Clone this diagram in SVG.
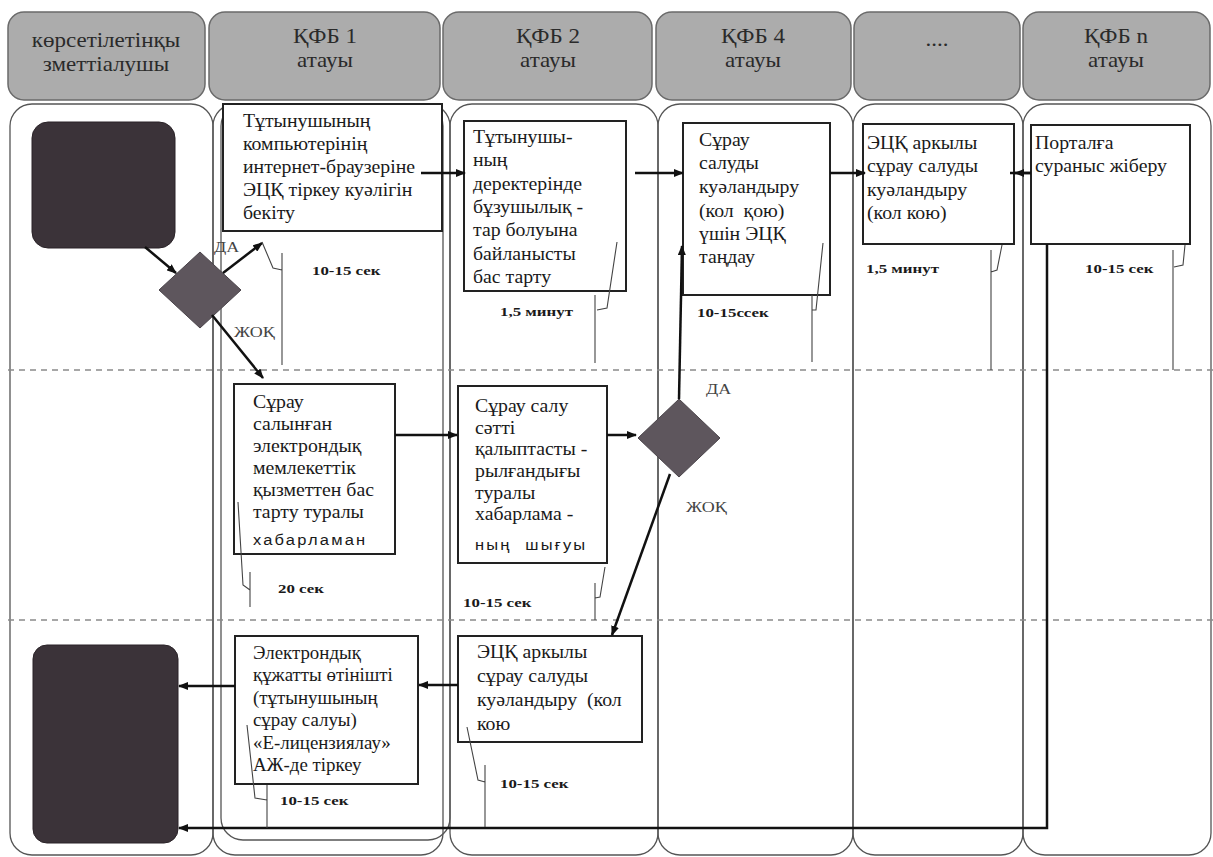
<svg xmlns="http://www.w3.org/2000/svg" width="1213" height="857" viewBox="0 0 1213 857">
<defs>
<marker id="ah" viewBox="0 0 10 8" refX="9" refY="4" markerWidth="4" markerHeight="3.2" orient="auto" markerUnits="strokeWidth">
<path d="M0,0 L10,4 L0,8 Z" fill="#111"/>
</marker>
</defs>
<style>
.hdr{fill:#acacac;stroke:#6a6a6a;stroke-width:1.5}
.ht{font-size:20px;fill:#2a2a2a;text-anchor:middle}
.lane{fill:none;stroke:#555;stroke-width:1.3}
.dash{stroke:#8a8a8a;stroke-width:1.6;stroke-dasharray:6 5;fill:none}
.box{fill:#fff;stroke:#222;stroke-width:2}
.bt{font-size:18px;fill:#1a1a1a}
.bs{font-size:15px;fill:#1a1a1a;letter-spacing:2px}
.term{fill:#3b3339;stroke:#2a2328;stroke-width:1}
.dia{fill:#5e565d;stroke:#4a444a;stroke-width:1}
.con{fill:none;stroke:#111;stroke-width:2.5;marker-end:url(#ah)}
.line{fill:none;stroke:#111;stroke-width:2.5}
.co{fill:none;stroke:#444;stroke-width:1.1}
.tm{font-size:13px;font-weight:bold;fill:#1a1a1a}
.lb{font-size:15px;fill:#444}
</style>
<rect width="1213" height="857" fill="#fff"/>

<g id="headers" font-family="Liberation Serif, Times New Roman, serif">
<rect class="hdr" x="8" y="12" width="197" height="88" rx="16"/>
<rect class="hdr" x="209" y="12" width="231" height="88" rx="16"/>
<rect class="hdr" x="443" y="12" width="209" height="88" rx="16"/>
<rect class="hdr" x="656" y="12" width="195" height="88" rx="16"/>
<rect class="hdr" x="854" y="12" width="166" height="88" rx="16"/>
<rect class="hdr" x="1023" y="12" width="187" height="88" rx="16"/>
<g transform="matrix(1.15,0,0,1,-15.9,0)">
<text class="ht" x="106" y="47">көрсетілетінқы</text>
<text class="ht" x="106" y="71">зметтіалушы</text>
</g>
<g transform="matrix(1.15,0,0,1,-48.75,0)">
<text class="ht" x="325" y="43">ҚФБ 1</text>
<text class="ht" x="325" y="67">атауы</text>
</g>
<g transform="matrix(1.15,0,0,1,-82.2,0)">
<text class="ht" x="548" y="43">ҚФБ 2</text>
<text class="ht" x="548" y="67">атауы</text>
</g>
<g transform="matrix(1.15,0,0,1,-112.95,0)">
<text class="ht" x="753" y="43">ҚФБ 4</text>
<text class="ht" x="753" y="67">атауы</text>
</g>
<g transform="matrix(1.15,0,0,1,-140.55,0)">
<text class="ht" x="937" y="46">....</text>
</g>
<g transform="matrix(1.15,0,0,1,-167.4,0)">
<text class="ht" x="1116" y="43">ҚФБ n</text>
<text class="ht" x="1116" y="67">атауы</text>
</g>
</g>

<g id="lanes">
<rect class="lane" x="10" y="104" width="203" height="751" rx="22"/>
<rect class="lane" x="213" y="104" width="230" height="751" rx="22"/>
<rect class="lane" x="221" y="104" width="229" height="736" rx="22"/>
<rect class="lane" x="450" y="104" width="208" height="751" rx="22"/>
<rect class="lane" x="658" y="104" width="195" height="751" rx="22"/>
<rect class="lane" x="853" y="104" width="170" height="751" rx="22"/>
<rect class="lane" x="1023" y="104" width="188" height="751" rx="22"/>
<line class="dash" x1="8" y1="370" x2="1213" y2="370"/>
<line class="dash" x1="8" y1="620" x2="1213" y2="620"/>
</g>

<g id="start"><rect class="term" x="32" y="122" width="143" height="126" rx="16"/></g>
<g id="end"><rect class="term" x="33" y="645" width="145" height="198" rx="14"/></g>

<g id="decision1"><polygon class="dia" points="200,252 241,290 200,328 159,290"/></g>
<g id="decision2"><polygon class="dia" points="679,399 720,438 679,477 638,438"/></g>

<g id="nodeA" font-family="Liberation Serif, Times New Roman, serif">
<rect class="box" x="223" y="104" width="219" height="127"/>
<g transform="matrix(1.1,0,0,1,-24.3,0)">
<text class="bt" x="243" y="127">Тұтынушының</text>
<text class="bt" x="243" y="150">компьютерінің</text>
<text class="bt" x="243" y="173">интернет-браузеріне</text>
<text class="bt" x="243" y="196">ЭЦҚ тіркеу куәлігін</text>
<text class="bt" x="243" y="219">бекіту</text>
</g>
</g>

<g id="nodeB" font-family="Liberation Serif, Times New Roman, serif">
<rect class="box" x="464" y="121" width="162" height="170"/>
<g transform="matrix(1.1,0,0,1,-47.3,0)">
<text class="bt" x="473" y="143">Тұтынушы-</text>
<text class="bt" x="473" y="166">ның</text>
<text class="bt" x="473" y="190">деректерінде</text>
<text class="bt" x="473" y="213">бұзушылық -</text>
<text class="bt" x="473" y="236">тар болуына</text>
<text class="bt" x="473" y="260">байланысты</text>
<text class="bt" x="473" y="283">бас тарту</text>
</g>
</g>

<g id="nodeC" font-family="Liberation Serif, Times New Roman, serif">
<rect class="box" x="683" y="123" width="147" height="172"/>
<g transform="matrix(1.1,0,0,1,-69.9,0)">
<text class="bt" x="699" y="146">Сұрау</text>
<text class="bt" x="699" y="169">салуды</text>
<text class="bt" x="699" y="193">куәландыру</text>
<text class="bt" x="699" y="217" xml:space="preserve">(кол  қою)</text>
<text class="bt" x="699" y="240">үшін ЭЦҚ</text>
<text class="bt" x="699" y="263">таңдау</text>
</g>
</g>

<g id="nodeD" font-family="Liberation Serif, Times New Roman, serif">
<rect class="box" x="863" y="124" width="151" height="120"/>
<g transform="matrix(1.1,0,0,1,-86.7,0)">
<text class="bt" x="867" y="149">ЭЦҚ аркылы</text>
<text class="bt" x="867" y="172">сұрау салуды</text>
<text class="bt" x="867" y="196">куәландыру</text>
<text class="bt" x="867" y="219">(кол кою)</text>
</g>
</g>

<g id="nodeE" font-family="Liberation Serif, Times New Roman, serif">
<rect class="box" x="1031" y="125" width="159" height="119"/>
<g transform="matrix(1.1,0,0,1,-103.5,0)">
<text class="bt" x="1035" y="149">Порталға</text>
<text class="bt" x="1035" y="172">сураныс жіберу</text>
</g>
</g>

<g id="nodeF" font-family="Liberation Serif, Times New Roman, serif">
<rect class="box" x="234" y="384" width="161" height="170"/>
<g transform="matrix(1.1,0,0,1,-25.3,0)">
<text class="bt" x="253" y="408">Сұрау</text>
<text class="bt" x="253" y="430">салынған</text>
<text class="bt" x="253" y="452">электрондық</text>
<text class="bt" x="253" y="474">мемлекеттік</text>
<text class="bt" x="253" y="496">қызметтен бас</text>
<text class="bt" x="253" y="518">тарту туралы</text>
<text class="bs" x="253" y="545" font-family="Liberation Sans, Arial, sans-serif">хабарламан</text>
</g>
</g>

<g id="nodeG" font-family="Liberation Serif, Times New Roman, serif">
<rect class="box" x="458" y="386" width="149" height="177"/>
<g transform="matrix(1.1,0,0,1,-47.5,0)">
<text class="bt" x="475" y="412">Сұрау салу</text>
<text class="bt" x="475" y="434">сәтті</text>
<text class="bt" x="475" y="455">қалыптасты -</text>
<text class="bt" x="475" y="477">рылғандығы</text>
<text class="bt" x="475" y="499">туралы</text>
<text class="bt" x="475" y="520">хабарлама -</text>
<text class="bs" x="475" y="550" font-size="13" letter-spacing="1" font-family="Liberation Sans, Arial, sans-serif" xml:space="preserve">ның  шығуы</text>
</g>
</g>

<g id="nodeH" font-family="Liberation Serif, Times New Roman, serif">
<rect class="box" x="458" y="636" width="184" height="106"/>
<g transform="matrix(1.1,0,0,1,-47.7,0)">
<text class="bt" x="477" y="658">ЭЦҚ аркылы</text>
<text class="bt" x="477" y="682">сұрау салуды</text>
<text class="bt" x="477" y="706" xml:space="preserve">куәландыру  (кол</text>
<text class="bt" x="477" y="730">кою</text>
</g>
</g>

<g id="nodeI" font-family="Liberation Serif, Times New Roman, serif">
<rect class="box" x="235" y="636" width="183" height="148"/>
<g transform="matrix(1.05,0,0,1,-12.65,0)">
<text class="bt" x="253" y="659">Электрондық</text>
<text class="bt" x="253" y="681">құжатты өтінішті</text>
<text class="bt" x="253" y="704">(тұтынушының</text>
<text class="bt" x="253" y="726">сұрау салуы)</text>
<text class="bt" x="253" y="749">«Е-лицензиялау»</text>
<text class="bt" x="253" y="771">АЖ-де тіркеу</text>
</g>
</g>

<g id="connectors">
<line class="con" x1="145" y1="247" x2="176" y2="273"/>
<line class="con" x1="223" y1="273" x2="262" y2="243"/>
<line class="con" x1="212" y1="315" x2="263" y2="378"/>
<line class="con" x1="421" y1="173" x2="465" y2="173"/>
<line class="con" x1="635" y1="173" x2="683" y2="173"/>
<line class="con" x1="830" y1="173" x2="865" y2="173"/>
<line class="line" x1="1031" y1="173" x2="1010" y2="173"/>
<line class="con" x1="1031" y1="173" x2="1015" y2="173"/>
<line class="con" x1="395" y1="435" x2="457" y2="435"/>
<line class="con" x1="607" y1="435" x2="636" y2="435"/>
<line class="con" x1="679" y1="399" x2="682" y2="246"/>
<line class="con" x1="670" y1="474" x2="612" y2="635"/>
<line class="con" x1="458" y1="685" x2="419" y2="685"/>
<line class="con" x1="235" y1="686" x2="179" y2="686"/>
<polyline class="con" points="1047,244 1047,828 179,828"/>
</g>

<g id="labels" font-family="Liberation Serif, Times New Roman, serif">
<text class="lb" x="214" y="252" transform="matrix(1.2,0,0,1,-42.8,0)">ДА</text>
<text class="lb" x="234" y="337" transform="matrix(1.2,0,0,1,-46.8,0)">ЖОҚ</text>
<text class="lb" x="706" y="394" transform="matrix(1.2,0,0,1,-141.2,0)">ДА</text>
<text class="lb" x="686" y="512" transform="matrix(1.2,0,0,1,-137.2,0)">ЖОҚ</text>
</g>

<g id="callouts" font-family="Liberation Serif, Times New Roman, serif">
<path class="co" d="M262,242 L273,268 L282,270 M282,253 V365"/>
<path class="co" d="M617,242 L607,308 L597,310 M595,295 V363"/>
<path class="co" d="M823,243 L816,310 L812,310 M812,295 V362"/>
<path class="co" d="M1002,245 L997,270 L991,272 M991,250 V370"/>
<path class="co" d="M1185,245 L1183,265 L1174,267 M1173,250 V370"/>
<path class="co" d="M238,502 L243,585 L250,590 M250,572 V607"/>
<path class="co" d="M605,567 L600,597 L595,598 M595,583 V620"/>
<path class="co" d="M467,727 L478,780 L485,782 M485,765 V827"/>
<path class="co" d="M247,725 L255,798 L267,800 M267,785 V828"/>
<text class="tm" x="312" y="275" transform="matrix(1.3,0,0,1,-93.6,0)">10-15 сек</text>
<text class="tm" x="500" y="316" transform="matrix(1.3,0,0,1,-150,0)">1,5 минут</text>
<text class="tm" x="697" y="317" transform="matrix(1.3,0,0,1,-209.1,0)">10-15ссек</text>
<text class="tm" x="866" y="273" transform="matrix(1.3,0,0,1,-259.8,0)">1,5 минут</text>
<text class="tm" x="1085" y="273" transform="matrix(1.3,0,0,1,-325.5,0)">10-15 сек</text>
<text class="tm" x="278" y="593" transform="matrix(1.3,0,0,1,-83.4,0)">20 сек</text>
<text class="tm" x="463" y="607" transform="matrix(1.3,0,0,1,-138.9,0)">10-15 сек</text>
<text class="tm" x="500" y="788" transform="matrix(1.3,0,0,1,-150,0)">10-15 сек</text>
<text class="tm" x="280" y="805" transform="matrix(1.3,0,0,1,-84,0)">10-15 сек</text>
</g>
</svg>
